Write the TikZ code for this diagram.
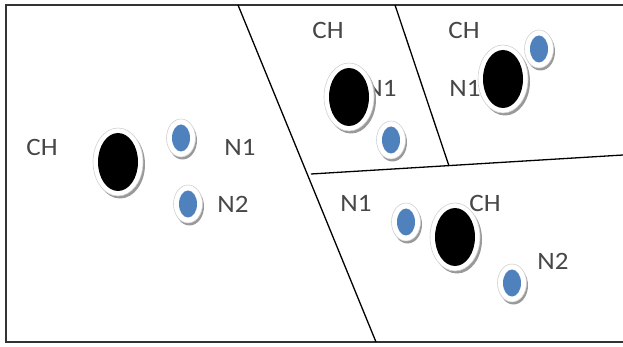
\documentclass[tikz,border=0pt]{standalone}
\usepackage{fontspec}
\setmainfont{Carlito}
\begin{document}
\begin{tikzpicture}[x=1pt,y=-1pt,
  lbl/.style={font=\fontsize{25}{30}\selectfont, text=black!72, inner sep=0pt, anchor=center, xscale=1.08},
  panelline/.style={line width=1.3pt, black},
  frameline/.style={line width=1.8pt, black!80},
  head/.pic={
    \fill[black!40] (2,2.5) ellipse [x radius=25, y radius=34];
    \fill[white, draw=black!18, line width=0.6pt] (0,0) ellipse [x radius=25, y radius=34];
    \fill[black] (0,0) ellipse [x radius=20, y radius=29];
  },
  member/.pic={
    \fill[black!40] (1.5,2.5) ellipse [x radius=14.5, y radius=19];
    \fill[white, draw=black!18, line width=0.6pt] (0,0) ellipse [x radius=14.5, y radius=19];
    \fill[fill={rgb,255:red,79;green,129;blue,189}] (0,0) ellipse [x radius=9, y radius=13.5];
  }]
\useasboundingbox (0,0) rectangle (623,347);

% frame
\draw[frameline] (623,5) -- (6,5) -- (6,342) -- (623,342);

% panel borders
\coordinate (d1top) at (238,5);
\coordinate (d1bot) at (376,342);
\coordinate (d2top) at (395,5);
\coordinate (d2bot) at (449,166);
\coordinate (hleft) at (311,174);
\coordinate (hright) at (623,155);
\draw[panelline] (d1top) -- (d1bot);
\draw[panelline] (d2top) -- (d2bot);
\draw[panelline] (hleft) -- (hright);

% labels (drawn before the markers so the markers sit on top)
\node[lbl] (chA) at (42,147) {CH};
\node[lbl] (n1A) at (240,147) {N1};
\node[lbl] (n2A) at (233,204) {N2};
\node[lbl] (chB) at (328,30) {CH};
\node[lbl] (n1B) at (381,88) {N1};
\node[lbl] (chC) at (464,30) {CH};
\node[lbl] (n1C) at (465,88) {N1};
\node[lbl] (n1D) at (356,203) {N1};
\node[lbl] (chD) at (485,203) {CH};
\node[lbl] (n2D) at (553,261) {N2};

% cluster heads and members
\pic at (118,162) {head};
\pic at (181,138) {member};
\pic at (188,204) {member};

\pic at (349,97) {head};
\pic at (391,140) {member};

\pic at (503,79) {head};
\pic at (539,49) {member};

\pic at (455,237) {head};
\pic at (406,222) {member};
\pic at (512,283) {member};
\end{tikzpicture}
\end{document}
